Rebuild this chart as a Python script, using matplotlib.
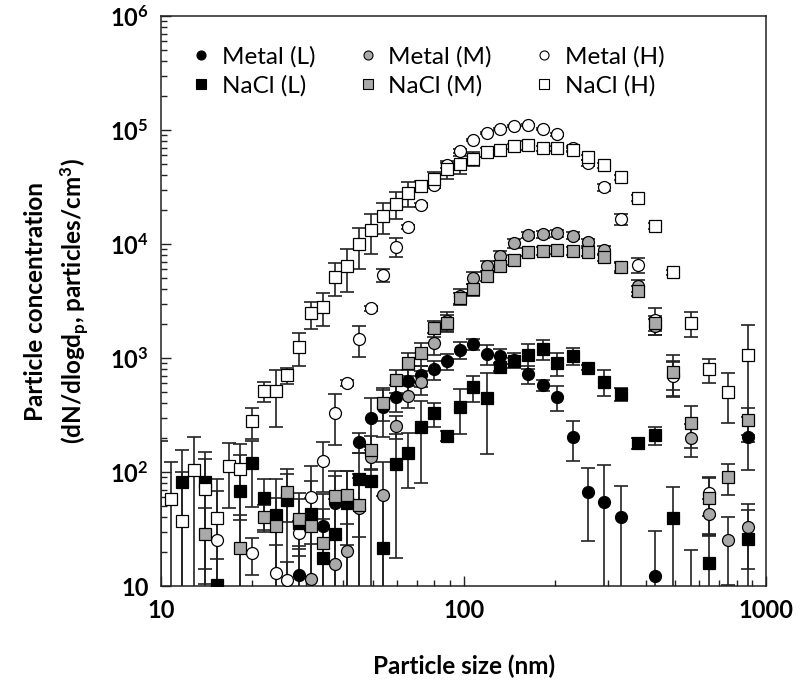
import numpy as np
import matplotlib
matplotlib.use("Agg")
import matplotlib.pyplot as plt
from matplotlib.lines import Line2D
from matplotlib.ticker import FixedLocator, LogLocator, FuncFormatter, NullFormatter

plt.rcParams["font.family"] = ["Lato", "DejaVu Sans"]
plt.rcParams["mathtext.fontset"] = "custom"
plt.rcParams["mathtext.rm"] = "Lato"
plt.rcParams["mathtext.bf"] = "Lato:bold"
plt.rcParams["mathtext.default"] = "bf"

n = np.nan

# --------------------------------------------------
# DATA  (dN/dlogdp, particles/cm3)
# --------------------------------------------------

size_nm = [10.0, 10.74, 11.74, 12.83, 13.98, 15.29, 16.71, 18.25, 20.0, 21.86,
           23.87, 26.05, 28.61, 31.35, 34.20, 37.41, 41.06, 45.08, 49.40, 54.25,
           59.76, 65.63, 72.30, 79.82, 87.92, 97.30, 107.4, 119.2, 131.9, 146.8,
           163.7, 182.7, 204.2, 229.6, 258.5, 291.3, 330.9, 376.6, 429.8, 491.7,
           563.9, 649.6, 750.9, 870.8]

metal_L = [n, n, n, n, n, n, n, n, n, n,
           n, n, 12.5, n, 33.6, 53.1, n, 184.5, 299, 374,
           457, 628, 710, 796, 942, 1175, 1318, 1091, 1047, 960,
           720, 580, 457, 204, 66.4, 54.8, 40.6, n, 12.2, n,
           6, n, n, 204]
metal_L_err = [n, n, n, n, n, n, n, n, n, n,
               n, n, 10, n, 30, 50, n, 37, 144, 170,
               120, 150, 150, 150, 150, 200, 150, 215, 150, 150,
               130, 62, 117, 78, 41.5, 60, 35, n, 18, n,
               14.7, n, n, 100]

metal_M = [n, n, n, n, n, n, n, n, n, n,
           n, n, n, 11.5, n, 15.6, 20.3, 48, 135, 62.8,
           253, 467, 620, 1361, 2123, 3500, 5060, 6412, 7850, 10150,
           12000, 12160, 12410, 11830, 10350, 8860, 6320, 4300, 1900, 720,
           200, 42.6, 25.3, 33.1]
metal_M_err = [n, n, n, n, n, n, n, n, n, n,
               n, n, n, 12, n, 10, 15, 40, 30, 60,
               60, 100, 150, 300, 400, 500, 600, 700, 800, 900,
               800, 800, 800, 800, 800, 800, 700, 500, 300, 200,
               65, 15, 15, 19]

metal_H = [n, n, n, n, n, 25.3, n, n, 19.6, n,
           12.9, 11.3, 29.0, 60.7, 125.6, 327, 607, 1468, 2729, 5346,
           9460, 14190, 21980, 32930, 49320, 65830, 81650, 94100, 101400, 108400,
           110600, 101400, 91600, 69100, 51700, 31400, 16480, 6540, 2155, 700,
           n, 66, n, n]
metal_H_err = [n, n, n, n, n, 43, n, n, 7, n,
               10, 5, 8, 52, 59, 156, 40, 445, 150, 700,
               1800, 600, 1000, 2000, 2500, 3000, 2000, 2000, 2000, 2000,
               2000, 2000, 2000, 3000, 3000, 2000, 1900, 980, 575, 240,
               n, 25, n, n]

nacl_L = [6, n, 82.2, n, 82.2, 10.3, n, 68.1, 119, 58.8,
          42, 56.8, 35.5, 42.6, 17.5, 28.4, 53.1, 86.9, 83.4, 21.4,
          117.5, 146, 250, 327, 207, 374, 553, 443, 828, 942,
          1062, 1191, 898, 1042, 822, 620, 483, 178.6, 211, 39.3,
          n, 15.8, n, 25.7]
nacl_L_err = [180, n, 74, n, 68, 7, n, 73, 70, 28,
              45, 50, 30, 40, 30, 30, 50, 60, 85, 40,
              100, 73, 170, 78, 20, 160, 140, 300, 60, 60,
              265, 235, 205, 174, 40, 160, 60, 20, 38, 34,
              n, 12, n, 21]

nacl_M = [n, n, n, n, 28.4, n, n, 21.7, n, 40.6,
          33.6, 66.4, 38.5, 33.6, 23.7, 61.5, 62.8, 51.4, 156, 401,
          641, 898, 1099, 1820, 2040, 3340, 4007, 5272, 6457, 7244,
          8560, 8730, 8860, 8730, 8560, 7640, 6320, 3890, 2015, 758,
          271, 58.8, 89.8, 286]
nacl_M_err = [n, n, n, n, 20, n, n, 20, n, 11,
              25, 30, 20, 25, 15, 30, 40, 45, 50, 120,
              150, 200, 250, 300, 350, 400, 500, 500, 600, 700,
              700, 700, 700, 700, 700, 600, 500, 400, 300, 300,
              108, 30, 27, 76]

nacl_H = [n, 58.3, 37.2, 104, 70.5, 39.7, 113, 107, 279, 514,
          514, 705, 1248, 2466, 2818, 5165, 6412, 10000, 13270, 17600,
          22440, 27840, 32270, 36960, 45190, 50330, 55980, 63680, 66370, 72400,
          73400, 69100, 69100, 66800, 57650, 49320, 38460, 25470, 14480, 5680,
          2040, 796, 506, 1062]
nacl_H_err = [n, 63, 62, 97, 60, 47, 65, 69, 83, 101,
              265, 117, 400, 650, 920, 1650, 2600, 3950, 5150, 5300,
              6000, 6900, 3800, 6000, 8000, 9200, 7700, 6000, 3000, 3500,
              6000, 3000, 3000, 3000, 3000, 2500, 2000, 1500, 800, 300,
              510, 190, 236, 880]

SERIES = [
    ("Metal (L)", metal_L, metal_L_err, "o", "black"),
    ("Metal (M)", metal_M, metal_M_err, "o", "#a9a9a9"),
    ("Metal (H)", metal_H, metal_H_err, "o", "white"),
    ("NaCl (L)", nacl_L, nacl_L_err, "s", "black"),
    ("NaCl (M)", nacl_M, nacl_M_err, "s", "#a9a9a9"),
    ("NaCl (H)", nacl_H, nacl_H_err, "s", "white"),
]

# --------------------------------------------------
# PLOT
# --------------------------------------------------

fig = plt.figure(figsize=(8, 6.9), dpi=100)
ax = fig.add_axes([0.2016, 0.1507, 0.756, 0.826])
ax.set_xscale("log")
ax.set_yscale("log")

x = np.array(size_nm)
for label, vals, err, mk, fc in SERIES:
    v = np.array(vals, dtype=float)
    e = np.array(err, dtype=float)
    lower = np.where(v - e <= 0, v - 1e-3, e)
    ax.errorbar(x, v, yerr=[lower, e], fmt="none", ecolor="#222222",
                elinewidth=1.2, capsize=5, capthick=1.2, zorder=2)

for k, (label, vals, err, mk, fc) in enumerate(SERIES):
    ms = 8.6 if mk == "o" else 8.4
    ax.plot(x, vals, linestyle="none", marker=mk, ms=ms, mfc=fc,
            mec="black", mew=0.9, zorder=3 + k)

ax.set_xlim(10, 1000)
ax.set_ylim(10, 1e6)

ax.xaxis.set_major_locator(FixedLocator([10, 100, 1000]))
ax.xaxis.set_major_formatter(FuncFormatter(lambda v, p: f"{int(v)}"))
ax.xaxis.set_minor_locator(LogLocator(base=10, subs=np.arange(2, 10)))
ax.xaxis.set_minor_formatter(NullFormatter())

ax.yaxis.set_major_locator(FixedLocator([10, 1e2, 1e3, 1e4, 1e5, 1e6]))
ax.yaxis.set_major_formatter(FuncFormatter(
    lambda v, p: "10" if v < 11 else r"$10^{%d}$" % round(np.log10(v))))
ax.yaxis.set_minor_locator(LogLocator(base=10, subs=np.arange(2, 10)))
ax.yaxis.set_minor_formatter(NullFormatter())

ax.tick_params(which="both", direction="in", top=False, right=False,
               labelsize=17, width=1.0, color="#222222")
ax.tick_params(which="major", length=7, pad=9)
ax.tick_params(which="minor", length=4.5)
for lab in ax.get_xticklabels() + ax.get_yticklabels():
    lab.set_fontweight("bold")

for sp in ax.spines.values():
    sp.set_linewidth(1.1)
    sp.set_color("#222222")

ax.set_xlabel("Particle size (nm)", fontsize=17.5, fontweight="bold", labelpad=24)
ax.set_ylabel("Particle concentration\n(dN/dlogd$_p$, particles/cm$^3$)",
              fontsize=17.5, fontweight="bold", labelpad=14, linespacing=1.45)

handles = []
for label, vals, err, mk, fc in SERIES:
    handles.append(Line2D([0], [0], linestyle="none", marker=mk, ms=6.5,
                          mfc=fc, mec="black", mew=0.8, label=label))
order = [0, 3, 1, 4, 2, 5]
ax.legend([handles[i] for i in order], [SERIES[i][0] for i in order],
          ncol=3, loc="upper left", bbox_to_anchor=(0.014, 0.986),
          frameon=False, fontsize=17.5, handlelength=0.8, handletextpad=0.45,
          columnspacing=1.75, labelspacing=0.3)

fig.savefig("out.png", dpi=100)
